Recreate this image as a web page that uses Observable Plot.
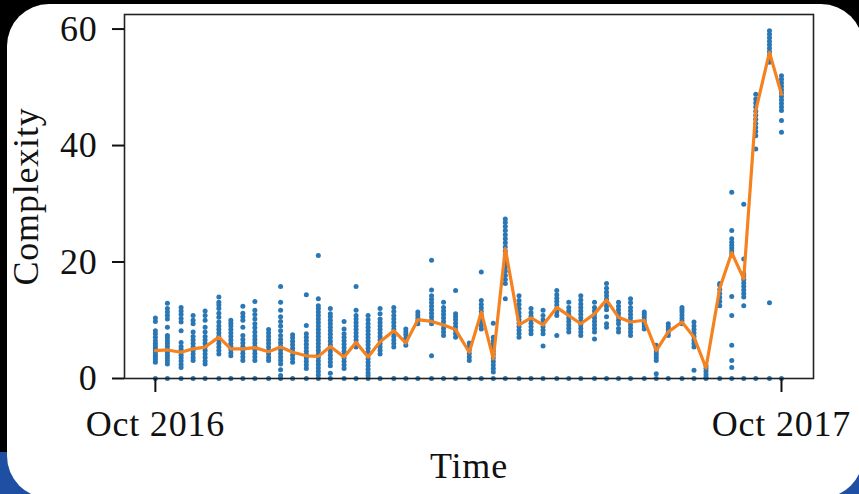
<!DOCTYPE html>
<html><head><meta charset="utf-8">
<script src="https://cdn.jsdelivr.net/npm/d3@7"></script>
<script src="https://cdn.jsdelivr.net/npm/@observablehq/plot@0.6"></script>
<style>
html,body{margin:0;padding:0;background:#000;width:859px;height:494px;overflow:hidden;position:relative}
#blue{position:absolute;left:0;top:452px;width:859px;height:42px;background:#1f4fa3}
#card{position:absolute;left:7px;top:4px;width:856px;height:494px;background:#fff;border-radius:42px}
#chart{position:absolute;left:0;top:0}
</style></head><body>
<div id="blue"></div><div id="card"></div><div id="chart"></div>
<script>
const dates = ["2016-10-01","2016-10-08","2016-10-16","2016-10-23","2016-10-30","2016-11-07","2016-11-14","2016-11-21","2016-11-28","2016-12-06",
"2016-12-13","2016-12-20","2016-12-28","2017-01-04","2017-01-11","2017-01-19","2017-01-26","2017-02-02","2017-02-09","2017-02-17",
"2017-02-24","2017-03-03","2017-03-11","2017-03-18","2017-03-25","2017-04-02","2017-04-09","2017-04-16","2017-04-23","2017-05-01",
"2017-05-08","2017-05-15","2017-05-23","2017-05-30","2017-06-06","2017-06-14","2017-06-21","2017-06-28","2017-07-05","2017-07-13",
"2017-07-20","2017-07-27","2017-08-04","2017-08-11","2017-08-18","2017-08-26","2017-09-02","2017-09-09","2017-09-16","2017-09-24","2017-10-01"];

const complexity = [
[0,2.8,3.2,3.6,4,4.4,4.8,5.2,5.6,6,6.5,7.1,7.7,8.2,9.8,10.4],
[0,2.5,3,3.5,4,4.5,5,5.5,6,6.5,7,7.4,8.8,10.2,10.8,11.4,12,12.9],
[0,1.9,2.4,3,3.5,4,4.5,5,5.5,6.2,8.2,9.7,10.3,11,11.6,12.2],
[0,3.1,3.6,4.2,4.8,5.4,6,6.6,7.2,8,9.4,10,10.8],
[0,2.5,3,3.6,4.2,4.8,5.4,6,6.6,7.2,8,8.8,10,10.8,11.6],
[0,4.2,4.8,5.4,6,6.6,7.2,7.8,8.4,9,9.7,10.5,11.2,12,12.6,13.1,14],
[0,3.9,4.4,5,5.5,6,6.6,7.2,7.8,8.4,9,9.5,10],
[0,3.1,3.7,4.3,4.9,5.5,6.1,6.7,7.4,8.8,10,10.6,11.2,12.4],
[0,3.1,3.7,4.3,4.9,5.5,6.1,6.7,7.3,8,8.7,9.4,10.2,11,11.7,13.2],
[0,3.1,3.6,4.2,4.8,5.4,6,6.6,7.2,7.8,8.4],
[0,0.5,1.5,2.5,3.1,3.7,4.3,4.9,5.5,6.1,6.7,7.4,8.2,9,9.8,10.6,11.7,13.1,15.8],
[0,2.8,3.4,4,4.6,5.2,5.8,6.4,7,7.5],
[0,1.7,2.3,2.9,3.5,4.1,4.7,5.3,5.9,6.5,7.1,7.7,9.1,14.4],
[0,0.6,1.2,1.8,2.4,3,3.6,4.2,4.8,5.4,6,6.6,7.2,7.8,8.4,9,9.6,10.2,10.8,11.4,12,12.5,13.7,21.1],
[0,0.9,2.2,2.8,3.4,4,4.6,5.2,5.8,6.4,7,7.6,8.2,8.8,9.4,10,10.6,11.1,12],
[0,1.7,2.3,2.9,3.5,4.1,4.7,5.3,5.9,6.5,7.1,7.7,8.5,9.8],
[0,5.4,6,6.6,7.2,7.8,8.4,9,9.6,10.2,10.8,11.7,15.8],
[0,0.5,1,1.6,2.2,2.8,3.4,4,4.6,5.2,5.8,6.4,7,7.6,8.2,8.8,9.4,10.1,10.8],
[0,4.2,4.8,5.4,6,6.6,7.2,7.8,8.4,9,9.6,10.2,11.1,12],
[0,5.4,6,6.6,7.2,7.8,8.4,9,9.6,10.2,10.8,11.5,12.2],
[0,5.7,6.3,6.9,7.5,8,8.5],
[0,9.4,9.9,10.4,10.9,11.4],
[0,3.9,9.4,10,10.6,11.2,11.8,12.4,13,13.6,14.2,15.2,20.3],
[0,7.4,8,8.6,9.2,9.8,10.4,11,11.6,12.2,13.1],
[0,7.1,7.7,8.3,8.9,9.5,10.1,10.6,11.1,15.1],
[0,3.1,3.7,4.3,4.9,5.5,6.1],
[0,8.5,9.1,9.7,10.3,10.9,11.5,12.1,12.7,13.4,18.3],
[0,1.1,1.7,2.3,2.9,3.5,4.1,4.7,5.3,5.9,6.5,7.1,9.5],
[0,13.7,16.3,17,17.7,18.4,19.1,19.8,20.5,21.2,21.9,22.6,23.3,24,24.7,25.4,26.1,26.8,27.4],
[0,7.1,7.7,8.3,8.9,9.5,10.1,10.7,11.3,12,12.7,13.4,14.2],
[0,7.7,8.3,8.9,9.5,10.1,10.7,11.3,12],
[0,5.6,7.7,8.3,8.9,9.5,10.1,10.8,11.7],
[0,7.4,10.8,11.4,12,12.6,13.2,13.8,14.4,15.1],
[0,8,8.6,9.2,9.8,10.4,11,11.6,12.2,13.1],
[0,7.4,8,8.6,9.2,9.8,10.4,11,11.6,12.2,12.8,13.5,14.2],
[0,6.8,8,8.6,9.2,9.8,10.4,11,11.6,12.2,13.1],
[0,8.8,9.4,10.6,11.8,12.4,13,13.6,14.2,14.8,15.5,16.3],
[0,8,8.6,9.4,10,10.6,11.2,11.8,12.4,13.1],
[0,7.4,8,8.6,9.2,9.8,10.4,11,11.6,12.2,13,13.7],
[0,8.5,9,9.5,10,10.5,11,11.4],
[0,0.8,3.1,3.6,4.1,4.6,5.1,5.7],
[0,7.4,7.9,8.4,8.9,9.4],
[0,9.4,9.9,10.4,10.9,11.4,11.8,12.2],
[0,1.4,5.4,6,6.6,7.2,7.8,8.4,9,9.7],
[0,0.2,0.7,1.2,1.7,2.2],
[0,12.5,13.2,13.9,14.6,15.3,16,16.3],
[0,1.9,3.1,5.7,10.8,14.1,21.4,21.9,22.4,22.9,23.4,24,25.4,32],
[0,12.5,14,14.6,15.2,15.8,16.4,17,17.6,18,20.5,29.9],
[0,39.4,41.7,42.4,43.1,43.8,44.5,45.2,45.9,46.6,47.3,48,48.8],
[0,13,54.3,54.9,55.5,56.1,56.7,57.3,57.9,58.5,59.1,59.7],
[0,42.3,44.3,46,46.6,47.2,47.8,48.4,49,49.6,50.2,50.8,51.4,52]
];

const median = [4.8,4.9,4.5,5.1,5.4,7.1,5.1,5.1,5.3,4.6,
5.4,4.5,3.9,3.8,5.5,3.7,6.2,3.7,6.3,8.2,
6.1,10.1,9.8,9.2,8.4,4.5,11.4,3.4,22.3,9.2,
10.4,9.2,12.2,10.8,9.4,11.1,13.5,10.5,9.7,10.0,
4.8,8.0,9.7,7.1,1.8,15.5,21.6,17.1,46,56,48.8];

const xTicks = ["2016-10-01","2017-10-01"];
const xTickLabels = ["Oct 2016","Oct 2017"];
const yTicks = [0,20,40,60];

const points = dates.flatMap((d,i)=>complexity[i].map(v=>({date:new Date(d), value:v})));
const line = dates.map((d,i)=>({date:new Date(d), value:median[i]}));
const tickDates = xTicks.map(d=>new Date(d));

const chart = Plot.plot({
  width:859, height:494,
  marginLeft:124, marginRight:46, marginTop:14, marginBottom:116,
  style:{fontFamily:"'Liberation Serif', serif", fontSize:"36px", color:"#111", background:"transparent", letterSpacing:"0.8px"},
  x:{type:"utc", domain:[new Date("2016-09-13"), new Date("2017-10-19T16:00")]},
  y:{domain:[0,62.5]},
  marks:[
    Plot.dot(points,{x:"date", y:"value", r:2.5, fill:"#2a77b6", stroke:"none"}),
    Plot.line(line,{x:"date", y:"value", stroke:"#f5821f", strokeWidth:3.2}),
    Plot.frame({stroke:"#222", strokeWidth:1.6}),
    Plot.axisX(tickDates,{tickSize:14, tickPadding:18, strokeWidth:2, label:null,
      tickFormat:d=>xTickLabels[tickDates.findIndex(t=>+t===+d)]}),
    Plot.axisY(yTicks,{tickSize:12, tickPadding:15, strokeWidth:2, label:null}),
    Plot.text(["Complexity"],{text:d=>d, frameAnchor:"left", textAnchor:"middle", rotate:-90, dx:-98, lineAnchor:"middle", fill:"#111"}),
    Plot.text(["Time"],{text:d=>d, frameAnchor:"bottom", textAnchor:"middle", dy:88, lineAnchor:"middle", fill:"#111"})
  ]
});
document.getElementById("chart").append(chart);
</script>
</body></html>
